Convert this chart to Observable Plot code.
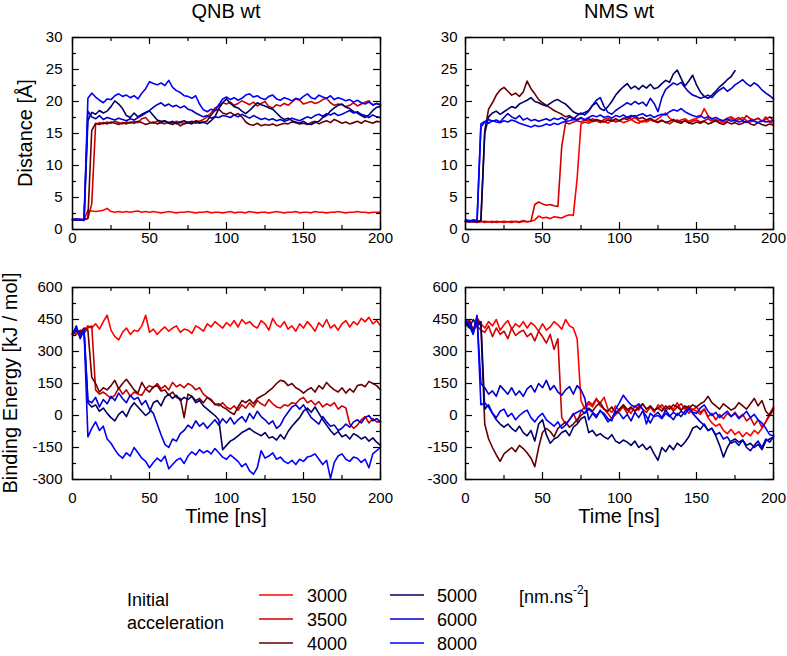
<!DOCTYPE html>
<html><head><meta charset="utf-8">
<script src="https://cdn.jsdelivr.net/npm/d3@7"></script>
<script src="https://cdn.jsdelivr.net/npm/@observablehq/plot@0.6"></script>
<style>
body{margin:0;background:#fff;}
#root{position:relative;width:787px;height:656px;background:#fff;}
#root svg{position:absolute;}
</style></head><body><div id="root"></div>
<script>
const time = [0,2.5,5,7.5,10,12.5,15,17.5,20,22.5,25,27.5,30,32.5,35,37.5,40,42.5,45,47.5,50,52.5,55,57.5,60,62.5,65,67.5,70,72.5,75,77.5,80,82.5,85,87.5,90,92.5,95,97.5,100,102.5,105,107.5,110,112.5,115,117.5,120,122.5,125,127.5,130,132.5,135,137.5,140,142.5,145,147.5,150,152.5,155,157.5,160,162.5,165,167.5,170,172.5,175,177.5,180,182.5,185,187.5,190,192.5,195,197.5,200];

const accelLabels = ["3000","3500","4000","5000","6000","8000"];
const accelColors = ["#ff0000","#cc0000","#660000","#000066","#0000cc","#0000ff"];

// QNB wt – distance (Å)
const dQNB_3000 = [1.6,1.5,1.6,1.5,3.0,2.9,2.8,2.9,3.0,3.3,
2.8,2.7,2.8,2.7,2.8,2.7,2.8,2.9,2.7,2.8,
2.7,2.8,2.7,2.6,2.7,2.8,2.7,2.6,2.7,2.7,
2.8,2.7,2.6,2.7,2.7,2.8,2.6,2.7,2.7,2.6,
2.7,2.8,2.6,2.7,2.7,2.6,2.8,2.7,2.6,2.7,
2.7,2.6,2.7,2.8,2.7,2.6,2.7,2.7,2.8,2.6,
2.7,2.7,2.6,2.8,2.7,2.7,2.6,2.7,2.7,2.8,
2.7,2.6,2.7,2.7,2.8,2.7,2.7,2.6,2.7,2.7,
2.7];
const dQNB_3500 = [1.5,1.6,1.5,1.6,1.7,4.0,16.4,16.7,16.5,16.8,
16.6,16.9,16.7,16.5,16.8,16.6,16.9,16.7,17.3,17.5,
16.8,16.6,16.9,16.7,16.5,16.8,16.6,16.9,16.7,16.6,
16.8,16.7,17.0,16.9,17.2,17.6,18.2,19.0,19.3,19.8,
19.6,19.9,19.4,19.7,20.1,19.8,19.5,19.9,19.3,19.7,
20.0,19.2,19.0,19.5,19.3,19.7,19.4,19.9,20.4,20.2,
19.6,19.8,20.0,19.7,19.9,20.3,20.5,19.8,19.4,19.6,
19.5,19.2,19.4,19.8,19.3,19.6,19.9,20.1,19.4,19.7,
19.6];
const dQNB_4000 = [1.5,1.6,1.5,1.5,1.8,15.5,16.6,16.4,16.7,16.5,
16.8,16.6,16.4,16.7,16.5,16.8,16.6,16.9,16.7,16.4,
16.6,16.8,16.5,16.7,16.9,16.6,16.4,16.7,16.2,16.5,
16.7,16.9,16.6,16.8,16.7,17.0,17.9,18.6,18.8,18.2,
18.0,18.3,17.9,18.1,17.6,16.8,16.4,16.3,16.6,16.2,
16.4,16.3,16.5,16.2,16.4,16.6,16.5,16.8,16.7,16.5,
16.6,16.4,16.7,16.9,16.5,16.8,17.0,16.7,17.2,16.9,
16.6,16.8,16.5,16.7,16.9,16.6,17.0,16.8,16.6,16.9,
16.8];
const dQNB_5000 = [1.5,1.6,1.5,1.5,17.0,18.3,18.0,18.6,18.2,18.5,
19.2,20.1,19.6,18.9,17.8,17.5,18.2,17.6,18.0,18.3,
18.5,17.8,17.1,16.9,17.0,16.6,16.9,16.5,16.8,17.0,
16.7,16.5,16.9,16.6,16.8,16.5,17.0,17.6,18.9,19.8,
20.4,19.7,19.2,19.0,18.5,18.1,18.6,19.2,19.8,19.5,
19.3,19.0,18.8,18.2,17.6,17.2,17.4,17.0,16.8,16.6,
16.9,16.5,16.4,16.7,16.9,17.5,17.8,18.5,19.0,19.4,
19.6,19.1,18.9,18.4,18.2,17.8,17.5,17.9,18.6,19.1,
19.2];
const dQNB_6000 = [1.5,1.6,1.5,1.6,18.5,17.6,17.3,17.8,17.2,17.5,
17.3,17.1,17.4,17.2,17.0,17.3,17.1,17.5,17.8,18.2,
18.6,19.1,19.5,19.8,19.3,19.6,19.2,19.4,19.0,19.3,
18.8,18.6,18.2,17.9,17.6,17.8,17.4,17.6,17.5,17.8,
17.7,17.5,17.9,17.6,18.0,17.7,17.4,17.8,17.5,17.2,
17.4,17.1,17.3,17.0,17.2,16.9,17.1,17.4,17.2,17.0,
17.3,17.6,17.4,17.8,18.0,17.7,18.1,17.9,18.2,17.8,
18.0,18.3,18.6,18.2,18.4,18.0,17.8,17.5,17.9,17.6,
17.5];
const dQNB_8000 = [1.6,1.5,1.6,1.4,20.5,21.3,20.7,20.2,19.8,20.4,
20.3,20.9,21.2,20.8,21.0,20.6,20.9,20.4,21.3,22.0,
23.1,22.8,22.6,22.9,22.5,23.3,22.2,21.7,21.4,20.9,
20.8,20.5,20.9,19.6,18.7,18.4,18.8,18.6,19.5,20.4,
20.7,20.3,20.6,20.2,20.5,21.0,21.2,20.7,20.9,20.5,
20.3,20.8,21.0,20.4,20.2,20.6,20.4,20.1,20.5,20.3,
20.8,21.2,20.6,20.4,21.0,20.7,20.5,20.9,20.3,20.6,
20.4,20.1,20.3,19.9,20.2,19.8,19.6,19.9,19.5,19.7,
19.4];

// NMS wt – distance (Å)
const dNMS_3000 = [1.3,1.2,1.3,1.2,1.3,1.1,1.2,1.3,1.1,1.2,
1.3,1.2,1.1,1.3,1.2,1.4,1.2,1.3,1.5,2.1,
1.8,1.9,1.7,2.0,1.9,1.8,2.1,2.3,2.2,8.0,
16.5,16.8,16.6,16.9,17.0,16.7,16.9,16.6,17.1,16.8,
17.0,16.7,16.9,17.2,16.8,16.6,17.0,16.8,17.1,16.9,
17.3,17.8,18.2,17.4,17.0,16.8,17.1,17.3,16.9,17.2,
17.4,17.6,18.9,17.8,17.2,16.9,17.1,16.7,17.0,17.3,
16.9,17.2,17.5,17.0,16.8,17.1,17.4,16.9,17.6,16.8,
16.6];
const dNMS_3500 = [1.2,1.3,1.2,1.1,1.2,1.3,1.2,1.1,1.3,1.2,
1.1,1.2,1.3,1.2,1.1,1.3,1.2,1.3,3.9,4.3,
4.0,3.8,3.9,3.7,3.6,13.0,16.7,16.5,16.8,17.0,
16.8,17.1,16.9,17.3,17.0,16.8,17.2,17.4,17.1,16.9,
17.0,17.3,17.6,17.2,17.5,17.0,16.8,17.1,17.3,16.9,
16.7,17.0,16.8,16.5,16.9,17.1,16.8,17.0,16.6,16.9,
17.1,16.8,17.0,17.3,16.9,17.2,16.7,17.0,17.4,17.6,
17.2,17.5,17.0,17.8,17.3,17.1,17.4,16.9,17.2,17.6,
17.0];
const dNMS_4000 = [1.3,1.2,1.3,1.2,1.4,15.5,18.8,19.8,21.0,21.8,
22.2,21.6,21.0,21.3,20.8,21.5,23.2,22.0,21.2,20.3,
19.8,19.4,19.0,18.6,18.3,18.0,17.6,17.8,17.4,17.2,
17.5,17.1,17.3,16.9,17.2,17.0,16.8,17.1,16.9,17.3,
17.0,17.4,17.2,17.6,17.8,17.3,17.5,17.1,17.4,17.0,
16.8,17.1,16.7,16.9,17.2,16.8,16.6,17.0,16.7,16.5,
16.8,16.6,16.9,16.5,16.7,17.0,16.6,16.4,16.8,16.5,
16.7,16.4,16.6,16.9,16.5,16.3,16.7,16.4,16.2,16.5,
16.3];
const dNMS_5000 = [1.3,1.2,1.3,1.2,1.4,15.0,17.6,18.2,18.5,18.0,
18.4,18.8,19.2,19.0,19.6,19.9,20.2,20.6,20.0,19.8,
19.5,19.3,19.7,20.1,20.3,19.9,19.6,19.0,18.4,18.1,
18.0,18.3,18.6,19.4,19.8,18.9,18.6,19.2,20.0,21.0,
21.7,22.3,22.8,22.0,22.4,21.9,22.5,22.1,22.7,22.0,
22.2,22.8,23.3,23.0,24.3,24.9,23.6,22.4,23.2,24.1,
22.6,21.5,20.8,20.5,21.0,21.6,22.3,22.8,23.4,23.9,
24.8,null,null,null,null,null,null,null,null,null,
null];
const dNMS_6000 = [1.4,1.3,1.5,1.4,16.0,16.8,17.2,16.9,17.1,16.8,
17.5,18.1,17.6,17.3,17.8,17.1,17.4,17.0,17.2,16.9,
17.1,17.3,17.0,17.4,17.2,17.5,17.1,17.6,17.3,17.8,
18.2,17.9,18.5,19.4,20.2,20.6,19.2,18.3,18.0,18.6,
19.0,19.4,19.8,19.5,20.0,19.6,19.9,19.3,20.5,19.7,
18.4,20.6,21.9,22.4,22.9,22.6,23.0,22.2,21.5,21.0,
20.8,20.5,20.7,21.0,20.6,21.3,21.8,22.2,21.6,22.0,
22.6,23.0,23.4,22.8,22.4,22.9,22.5,21.8,21.3,20.9,
20.4];
const dNMS_8000 = [1.5,1.4,1.4,1.3,16.5,16.9,16.6,17.0,16.8,16.7,
17.0,16.8,17.1,16.9,16.6,16.4,16.2,16.0,16.3,16.1,
16.2,16.5,16.3,16.6,16.4,16.7,16.9,17.0,17.2,17.1,
17.4,17.2,17.5,17.8,17.6,17.9,17.5,17.7,17.4,17.8,
17.6,17.9,17.5,17.8,17.6,17.9,18.1,17.7,17.9,17.5,
17.8,18.0,17.9,18.4,18.7,18.5,18.9,18.4,18.1,17.8,
17.6,17.8,17.4,17.6,17.3,17.5,17.2,17.0,17.3,16.9,
17.1,16.8,17.0,16.7,17.1,16.9,16.7,17.0,16.8,16.9,
17.0];

// QNB wt – binding energy (kJ/mol)
const eQNB_3000 = [380,395,370,400,420,410,430,405,440,470,
400,370,355,390,410,380,400,395,420,470,
390,405,380,400,415,395,410,420,390,405,
400,385,420,410,395,430,415,440,425,410,
435,420,445,415,450,430,440,420,410,445,
430,400,455,425,415,440,405,420,395,430,
410,440,420,395,435,415,450,410,425,400,
430,445,415,440,425,455,440,460,430,445,
420];
const eQNB_3500 = [390,380,400,385,410,420,120,100,110,95,
80,95,130,100,120,90,110,100,95,125,
140,130,150,125,140,120,155,135,145,130,
150,140,120,130,100,85,70,55,45,60,
40,30,45,25,50,35,60,40,70,55,
45,75,55,40,35,50,45,60,55,75,
85,60,70,50,65,40,55,45,60,30,
45,35,-40,-60,-45,-20,-5,-35,-15,-30,
-30];
const eQNB_4000 = [380,400,390,410,400,180,150,110,130,120,
140,165,125,150,170,145,120,105,155,125,
110,135,140,115,120,95,110,85,80,-10,
100,90,70,80,60,85,75,50,55,40,
30,15,5,40,70,60,75,55,80,90,
100,115,130,150,165,160,140,150,130,120,
105,120,130,110,140,125,155,135,120,110,
130,105,125,110,140,145,135,160,150,140,
120];
const eQNB_5000 = [385,400,380,395,60,40,50,20,35,10,
-10,-25,5,20,-5,35,60,40,20,0,
15,60,70,45,85,100,80,95,70,85,
75,90,60,70,45,30,15,0,-20,-160,
-140,-120,-110,-95,-80,-70,-60,-75,-85,-95,
-80,-105,-100,-115,-90,-110,-75,-50,-30,-10,
20,35,15,40,10,-20,-45,-70,-90,-75,
-100,-90,-110,-85,-95,-110,-100,-120,-105,-125,
-140];
const eQNB_6000 = [380,410,370,400,70,60,85,40,75,55,
90,70,105,80,60,95,75,85,50,70,
30,10,-40,-90,-135,-150,-110,-120,-85,-70,
-45,-60,-25,-50,-35,-60,-40,-20,-45,-15,
-35,-10,-40,-20,-5,-30,10,-15,20,-5,
-20,-40,-25,-60,-45,-10,15,40,50,30,
50,20,-10,-25,-40,-5,-30,-50,-45,-70,
-60,-40,-55,-30,-20,-35,-10,0,-25,-15,
-30];
const eQNB_8000 = [380,420,360,400,-100,-60,-30,-70,-50,-110,
-130,-160,-185,-200,-175,-190,-150,-175,-200,-215,
-245,-220,-200,-215,-190,-250,-230,-210,-200,-225,
-190,-170,-185,-160,-175,-165,-180,-155,-175,-195,
-205,-185,-200,-215,-240,-225,-260,-275,-245,-165,
-200,-190,-175,-205,-195,-215,-225,-210,-230,-205,
-215,-195,-190,-180,-205,-230,-210,-295,-220,-190,
-180,-205,-215,-195,-200,-220,-205,-245,-180,-165,
-150];

// NMS wt – binding energy (kJ/mol)
const eNMS_3000 = [440,420,390,460,430,410,440,420,450,400,
425,445,405,430,415,440,410,435,420,395,
430,400,415,440,425,405,450,420,410,360,
70,30,55,40,75,60,85,30,15,45,
20,50,30,10,45,25,55,30,40,15,
50,35,20,45,30,60,25,40,10,30,
20,5,30,-10,-35,-50,-40,-70,-85,-65,
-90,-75,-100,-80,-95,-70,-85,-60,-30,10,
40];
const eNMS_3500 = [430,450,400,420,400,390,420,370,410,380,
395,360,410,375,390,400,370,385,350,395,
370,340,380,310,360,-10,-40,-20,10,-30,
20,40,65,50,80,45,30,10,-15,5,
25,40,10,35,20,45,30,15,40,25,
35,50,30,45,20,40,55,30,45,25,
40,15,30,-5,10,-20,5,-15,10,-5,
15,-10,5,-25,-10,-45,-20,-55,-30,0,
30];
const eNMS_4000 = [420,440,400,450,420,-40,-110,-150,-185,-215,
-180,-165,-150,-170,-140,-155,-175,-200,-240,-150,
-80,-60,-75,-100,-60,-45,-30,-55,-40,-20,
0,15,35,20,45,60,30,20,40,10,
30,50,25,40,20,35,55,30,45,25,
35,20,45,30,50,40,25,45,35,50,
40,55,65,90,60,45,30,55,40,25,
35,60,45,30,55,80,45,70,20,0,
30];
const eNMS_5000 = [430,410,450,420,440,30,50,10,-20,-40,
-55,-40,-60,-75,-50,-80,-95,-70,-120,-40,
-20,-90,-130,-110,-100,-80,-70,-95,-55,-40,
-15,-5,-80,-70,-95,-85,-100,-110,-90,-120,
-130,-115,-125,-140,-120,-150,-135,-160,-145,-180,
-210,-150,-170,-140,-160,-130,-145,-125,-100,-60,
-50,-65,-40,-70,-60,-95,-140,-195,-150,-120,
-110,-125,-115,-140,-130,-150,-135,-160,-120,-110,
-100];
const eNMS_6000 = [440,420,380,460,150,130,100,115,90,140,
120,100,130,95,115,90,125,140,110,150,
130,165,120,140,110,95,120,135,100,140,
120,80,-20,10,-10,25,0,-30,-15,20,
10,-15,5,-25,15,-10,20,-5,-35,0,
15,-10,25,0,-20,10,-5,20,35,10,
-10,-30,-45,-70,-60,-90,-80,-110,-100,-130,
-120,-140,-115,-150,-165,-140,-120,-150,-110,-125,
-100];
const eNMS_8000 = [450,430,390,470,50,60,40,10,-10,20,
30,-5,10,-20,0,15,25,-10,-30,-5,
10,-20,-35,-50,-30,-60,-45,-20,5,15,
25,10,30,15,0,20,10,-15,-25,30,
60,95,70,50,40,55,30,-40,10,-5,
0,-15,10,-5,15,0,20,5,30,15,
10,35,50,20,0,15,-10,5,20,-5,
10,-15,0,20,-10,5,-20,-35,-60,-90,
-95];

const timeTicks = [0,50,100,150,200];
const timeMinor = [25,75,125,175];
const distTicks = [0,5,10,15,20,25,30];
const distMinor = [2.5,7.5,12.5,17.5,22.5,27.5];
const enTicks = [-300,-150,0,150,300,450,600];
const enMinor = [-225,-75,75,225,375,525];

const FONT = '"Liberation Sans", Arial, Helvetica, sans-serif';
const root = document.getElementById("root");

function panel(cfg){
  const {series, yDomain, yMajor, yMinor, left, top, W, H, mt, mb, ml, mr, xPad, yPad} = cfg;
  const pw = W - ml - mr, ph = H - mt - mb;
  const marks = [];
  series.forEach((vals, k) => {
    const rows = time.map((t, i) => ({t, v: vals[i]}));
    marks.push(Plot.line(rows, {x: "t", y: "v", stroke: accelColors[k], strokeWidth: 1.6, strokeLinejoin: "round"}));
  });
  const tickStyle = {stroke: "black", strokeWidth: 1.2};
  marks.push(Plot.tickX(timeTicks, {x: d => d, insetTop: ph - 7, ...tickStyle}));
  marks.push(Plot.tickX(timeTicks, {x: d => d, insetBottom: ph - 7, ...tickStyle}));
  marks.push(Plot.tickX(timeMinor, {x: d => d, insetTop: ph - 4, ...tickStyle}));
  marks.push(Plot.tickX(timeMinor, {x: d => d, insetBottom: ph - 4, ...tickStyle}));
  marks.push(Plot.tickY(yMajor, {y: d => d, insetRight: pw - 7, ...tickStyle}));
  marks.push(Plot.tickY(yMajor, {y: d => d, insetLeft: pw - 7, ...tickStyle}));
  marks.push(Plot.tickY(yMinor, {y: d => d, insetRight: pw - 4, ...tickStyle}));
  marks.push(Plot.tickY(yMinor, {y: d => d, insetLeft: pw - 4, ...tickStyle}));
  marks.push(Plot.frame({stroke: "black", strokeWidth: 1.5}));
  const svg = Plot.plot({
    width: W, height: H,
    marginLeft: ml, marginRight: mr, marginTop: mt, marginBottom: mb,
    style: {fontFamily: FONT, fontSize: "15px", color: "black", background: "transparent", overflow: "visible"},
    x: {domain: [0, 200], ticks: timeTicks, tickSize: 0, tickPadding: xPad, tickFormat: d => String(d), label: null},
    y: {domain: yDomain, ticks: yMajor, tickSize: 0, tickPadding: yPad, tickFormat: d => String(d), label: null},
    marks
  });
  svg.style.left = left + "px";
  svg.style.top = top + "px";
  root.appendChild(svg);
}

panel({series: [dQNB_3000,dQNB_3500,dQNB_4000,dQNB_5000,dQNB_6000,dQNB_8000], yDomain: [0,30], yMajor: distTicks, yMinor: distMinor,
  left: 0, top: 0, W: 393, H: 260, mt: 37, mb: 31, ml: 72, mr: 13, xPad: 3, yPad: 10});
panel({series: [dNMS_3000,dNMS_3500,dNMS_4000,dNMS_5000,dNMS_6000,dNMS_8000], yDomain: [0,30], yMajor: distTicks, yMinor: distMinor,
  left: 393, top: 0, W: 394, H: 260, mt: 37, mb: 31, ml: 72, mr: 14, xPad: 3, yPad: 8});
panel({series: [eQNB_3000,eQNB_3500,eQNB_4000,eQNB_5000,eQNB_6000,eQNB_8000], yDomain: [-300,600], yMajor: enTicks, yMinor: enMinor,
  left: 0, top: 260, W: 393, H: 280, mt: 27, mb: 61, ml: 72, mr: 13, xPad: 13, yPad: 10});
panel({series: [eNMS_3000,eNMS_3500,eNMS_4000,eNMS_5000,eNMS_6000,eNMS_8000], yDomain: [-300,600], yMajor: enTicks, yMinor: enMinor,
  left: 393, top: 260, W: 394, H: 280, mt: 27, mb: 61, ml: 72, mr: 14, xPad: 13, yPad: 8});

// overlay: titles, axis labels, legend
const ov = d3.select(root).append("svg")
  .attr("width", 787).attr("height", 656)
  .style("left", "0px").style("top", "0px")
  .attr("font-family", FONT).attr("fill", "black");

const titles = ["QNB wt", "NMS wt"];
const colCenters = [226, 619];
titles.forEach((t, i) => ov.append("text").attr("x", colCenters[i]).attr("y", 18)
  .attr("text-anchor", "middle").attr("font-size", 20).text(t));
colCenters.forEach(cx => ov.append("text").attr("x", cx).attr("y", 523)
  .attr("text-anchor", "middle").attr("font-size", 20).text("Time [ns]"));
ov.append("text").attr("transform", "translate(32,133) rotate(-90)")
  .attr("text-anchor", "middle").attr("font-size", 20).text("Distance [Å]");
ov.append("text").attr("transform", "translate(17,383) rotate(-90)")
  .attr("text-anchor", "middle").attr("font-size", 20).text("Binding Energy [kJ / mol]");

// legend
const lg = ov.append("g").attr("font-size", 18);
lg.append("text").attr("x", 127).attr("y", 606).text("Initial");
lg.append("text").attr("x", 127).attr("y", 629).text("acceleration");
const rowY = [595, 619, 643];
const colLineX = [259, 390];
const colTextX = [307, 437];
accelLabels.forEach((lab, i) => {
  const c = Math.floor(i / 3), r = i % 3;
  lg.append("line").attr("x1", colLineX[c]).attr("x2", colLineX[c] + 34)
    .attr("y1", rowY[r]).attr("y2", rowY[r])
    .attr("stroke", accelColors[i]).attr("stroke-width", 1.4);
  lg.append("text").attr("x", colTextX[c]).attr("y", rowY[r] + 7).text(lab);
});
const unit = lg.append("text").attr("x", 519).attr("y", 603);
unit.append("tspan").text("[nm.ns");
unit.append("tspan").attr("dy", -9).attr("font-size", 12).text("-2");
unit.append("tspan").attr("dy", 9).text("]");
</script>
</body></html>
